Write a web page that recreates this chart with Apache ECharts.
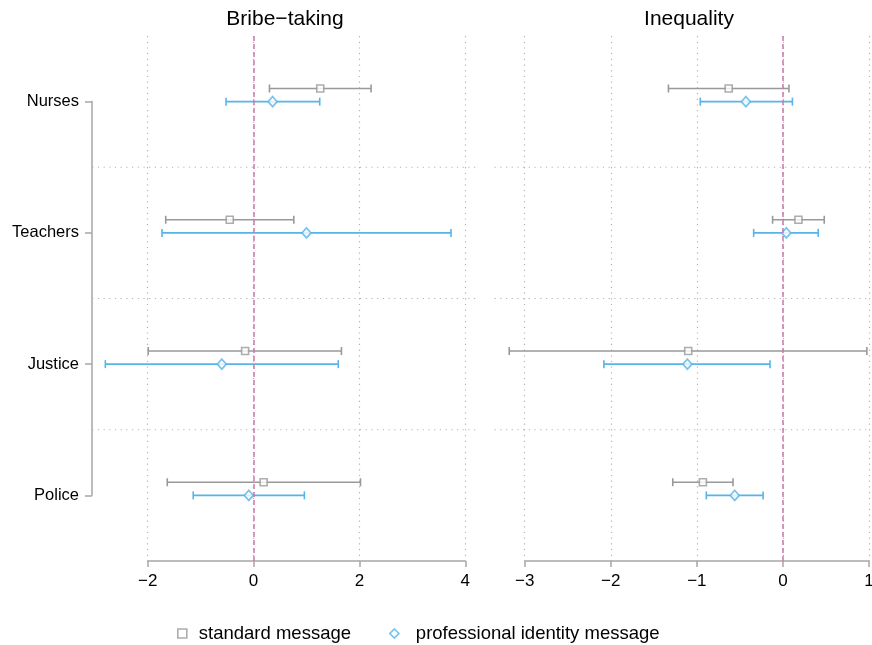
<!DOCTYPE html>
<html>
<head>
<meta charset="utf-8">
<script src="https://cdn.jsdelivr.net/npm/echarts@6/dist/echarts.min.js"></script>
<style>
  html, body { margin: 0; padding: 0; background: #fff; overflow: hidden; }
  #chart { width: 872px; height: 645px; }
</style>
</head>
<body>
<div id="chart"></div>
<script>
// Groups, top to bottom
const categories = ['Nurses', 'Teachers', 'Justice', 'Police'];
const seriesNames = ['standard message', 'professional identity message'];
const panelTitles = ['Bribe\u2212taking', 'Inequality'];

// Bribe-taking: point estimates and confidence bounds
const bribeStdEst  = [1.26, -0.45, -0.16, 0.19];
const bribeStdLow  = [0.30, -1.66, -1.99, -1.63];
const bribeStdHigh = [2.22, 0.76, 1.66, 2.02];
const bribeProEst  = [0.36, 1.00, -0.60, -0.09];
const bribeProLow  = [-0.52, -1.73, -2.80, -1.14];
const bribeProHigh = [1.25, 3.73, 1.60, 0.96];

// Inequality: point estimates and confidence bounds
const ineqStdEst  = [-0.63, 0.18, -1.10, -0.93];
const ineqStdLow  = [-1.33, -0.12, -3.18, -1.28];
const ineqStdHigh = [0.07, 0.48, 0.975, -0.58];
const ineqProEst  = [-0.43, 0.04, -1.11, -0.56];
const ineqProLow  = [-0.96, -0.34, -2.08, -0.89];
const ineqProHigh = [0.11, 0.41, -0.15, -0.23];

// Axis ticks
const bribeTicks = [-2, 0, 2, 4];
const ineqTicks = [-3, -2, -1, 0, 1];

const GREY = '#999999';
const BLUE = '#56b4e9';
const REF = '#cc79a7';
const AXIS = '#a6a6a6';
const GRIDDOT = '#b3b3b3';
const FONT = '"Liberation Sans", Arial, Helvetica, sans-serif';
const STD_SHIFT = -0.1;   // standard-message row sits just above each group

const chart = echarts.init(document.getElementById('chart'), null, { renderer: 'canvas' });

function minusFmt(v) { return String(v).replace('-', '\u2212'); }

function errorBarItem(params, api) {
  const y = api.value(2);
  const a = api.coord([api.value(0), y]);
  const b = api.coord([api.value(1), y]);
  const color = api.visual('color');
  const h = 4;
  const st = { stroke: color, lineWidth: 1.6 };
  return {
    type: 'group',
    children: [
      { type: 'line', shape: { x1: a[0], y1: a[1], x2: b[0], y2: b[1] }, style: st },
      { type: 'line', shape: { x1: a[0], y1: a[1] - h, x2: a[0], y2: a[1] + h }, style: st },
      { type: 'line', shape: { x1: b[0], y1: b[1] - h, x2: b[0], y2: b[1] + h }, style: st }
    ]
  };
}

function dividerItem(params, api) {
  const y = api.value(2);
  const a = api.coord([api.value(0), y]);
  const b = api.coord([api.value(1), y]);
  return {
    type: 'line',
    shape: { x1: a[0], y1: a[1], x2: b[0], y2: b[1] },
    style: { stroke: GRIDDOT, lineWidth: 1.2, lineDash: [1.2, 4.5] }
  };
}

function barData(low, high, shift) {
  return low.map((l, i) => [l, high[i], i + shift]);
}
function pointData(est, shift) {
  return est.map((v, i) => [v, i + shift]);
}
const dividerRows = categories.slice(1).map((_, i) => i + 0.5);

function panelSeries(gi, est1, low1, high1, est2, low2, high2, span) {
  return [
    {
      type: 'custom', xAxisIndex: gi, yAxisIndex: gi, silent: true, clip: false, z: 1,
      renderItem: dividerItem,
      data: dividerRows.map(r => [span[0], span[1], r]),
      markLine: {
        silent: true, symbol: 'none', label: { show: false },
        lineStyle: { color: REF, width: 1.5, type: [5, 3] },
        data: [{ xAxis: 0 }]
      }
    },
    {
      type: 'custom', xAxisIndex: gi, yAxisIndex: gi, silent: true, clip: false, z: 3,
      itemStyle: { color: GREY },
      renderItem: errorBarItem,
      encode: { x: [0, 1], y: 2 },
      data: barData(low1, high1, STD_SHIFT)
    },
    {
      type: 'custom', xAxisIndex: gi, yAxisIndex: gi, silent: true, clip: false, z: 3,
      itemStyle: { color: BLUE },
      renderItem: errorBarItem,
      encode: { x: [0, 1], y: 2 },
      data: barData(low2, high2, 0)
    },
    {
      name: seriesNames[0], type: 'scatter', xAxisIndex: gi, yAxisIndex: gi, z: 4,
      symbol: 'rect', symbolSize: 7, clip: false,
      itemStyle: { color: '#fff', borderColor: GREY, borderWidth: 1.6 },
      data: pointData(est1, STD_SHIFT)
    },
    {
      name: seriesNames[1], type: 'scatter', xAxisIndex: gi, yAxisIndex: gi, z: 4,
      symbol: 'diamond', symbolSize: [9, 10], clip: false,
      itemStyle: { color: '#fff', borderColor: BLUE, borderWidth: 1.7 },
      data: pointData(est2, 0)
    }
  ];
}

function panelX(gi, ticks) {
  return {
    gridIndex: gi, type: 'value',
    min: ticks[0], max: ticks[ticks.length - 1], interval: ticks[1] - ticks[0],
    axisLine: { show: true, onZero: false, lineStyle: { color: AXIS, width: 1.5 } },
    axisTick: { show: true, length: 6, lineStyle: { color: AXIS, width: 1.5 } },
    axisLabel: { color: '#000', fontSize: 17, fontFamily: FONT, margin: 12, formatter: minusFmt },
    splitLine: { show: true, lineStyle: { color: GRIDDOT, width: 1.2, type: [1.2, 4.5] } }
  };
}
function panelY(gi) {
  return {
    gridIndex: gi, type: 'value', min: -0.5, max: categories.length - 0.5, inverse: true,
    show: false, splitLine: { show: false }
  };
}

const option = {
  backgroundColor: '#fff',
  animation: false,
  textStyle: { fontFamily: FONT },
  title: [
    { text: panelTitles[0], left: 280, top: 4, textAlign: 'center',
      textStyle: { fontSize: 21, fontWeight: 'normal', color: '#000', fontFamily: FONT } },
    { text: panelTitles[1], left: 684, top: 4, textAlign: 'center',
      textStyle: { fontSize: 21, fontWeight: 'normal', color: '#000', fontFamily: FONT } }
  ],
  legend: {
    left: 172, top: 619,
    itemWidth: 9, itemHeight: 9, itemGap: 38,
    textStyle: { fontSize: 18.5, color: '#000', fontFamily: FONT, padding: [0, 0, 0, 7] },
    data: [
      { name: seriesNames[0], icon: 'rect',
        itemStyle: { color: '#fff', borderColor: GREY, borderWidth: 1.6 } },
      { name: seriesNames[1], icon: 'diamond',
        textStyle: { padding: [0, 0, 0, 12] },
        itemStyle: { color: '#fff', borderColor: BLUE, borderWidth: 1.7 } }
    ]
  },
  grid: [
    { left: 147.7, width: 465.3 - 147.7, top: 36, height: 561 - 36, outerBoundsMode: 'none' },
    { left: 524.7, width: 869 - 524.7, top: 36, height: 561 - 36, outerBoundsMode: 'none' },
    { left: 92, width: 1, top: 101.5, height: 495.3 - 101.5, outerBoundsMode: 'none' }
  ],
  xAxis: [
    panelX(0, bribeTicks),
    panelX(1, ineqTicks),
    { gridIndex: 2, type: 'value', show: false }
  ],
  yAxis: [
    panelY(0),
    panelY(1),
    {
      gridIndex: 2, type: 'category', data: categories, inverse: true, boundaryGap: false,
      axisLine: { show: true, lineStyle: { color: AXIS, width: 1.5 } },
      axisTick: { show: true, length: 7, lineStyle: { color: AXIS, width: 1.5 } },
      axisLabel: { color: '#000', fontSize: 16.5, fontFamily: FONT, margin: 13 },
      splitLine: { show: false }
    }
  ],
  series: [
    ...panelSeries(0, bribeStdEst, bribeStdLow, bribeStdHigh, bribeProEst, bribeProLow, bribeProHigh, [-3.05, 4.2]),
    ...panelSeries(1, ineqStdEst, ineqStdLow, ineqStdHigh, ineqProEst, ineqProLow, ineqProHigh, [-3.35, 1.02])
  ]
};

chart.setOption(option);
</script>
</body>
</html>
